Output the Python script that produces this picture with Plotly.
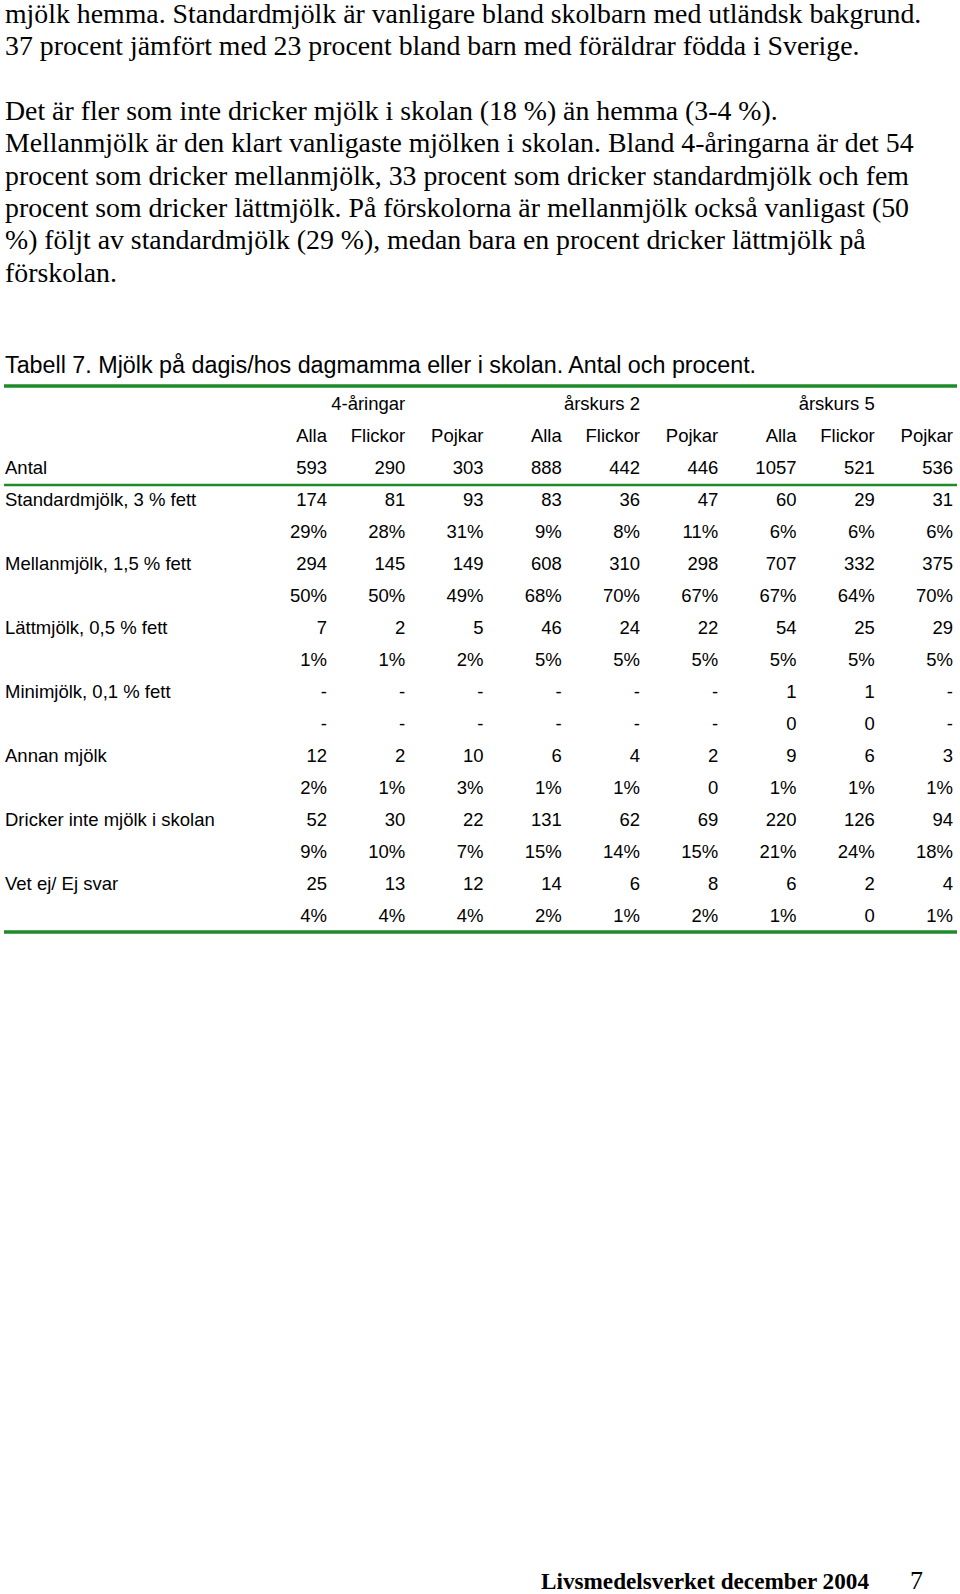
import plotly.graph_objects as go

# ---------------- data ----------------
paragraph_lines = [
    "mjölk hemma. Standardmjölk är vanligare bland skolbarn med utländsk bakgrund.",
    "37 procent jämfört med 23 procent bland barn med föräldrar födda i Sverige.",
    "",
    "Det är fler som inte dricker mjölk i skolan (18 %) än hemma (3-4 %).",
    "Mellanmjölk är den klart vanligaste mjölken i skolan. Bland 4-åringarna är det 54",
    "procent som dricker mellanmjölk, 33 procent som dricker standardmjölk och fem",
    "procent som dricker lättmjölk. På förskolorna är mellanmjölk också vanligast (50",
    "%) följt av standardmjölk (29 %), medan bara en procent dricker lättmjölk på",
    "förskolan.",
]
table_title = "Tabell 7. Mjölk på dagis/hos dagmamma eller i skolan. Antal och procent."
groups = ["4-åringar", "årskurs 2", "årskurs 5"]
subgroups = ["Alla", "Flickor", "Pojkar"]
antal = [593, 290, 303, 888, 442, 446, 1057, 521, 536]

row_labels = [
    "Standardmjölk, 3 % fett",
    "Mellanmjölk, 1,5 % fett",
    "Lättmjölk, 0,5 % fett",
    "Minimjölk, 0,1 % fett",
    "Annan mjölk",
    "Dricker inte mjölk i skolan",
    "Vet ej/ Ej svar",
]
standard_n = [174, 81, 93, 83, 36, 47, 60, 29, 31]
standard_p = ["29%", "28%", "31%", "9%", "8%", "11%", "6%", "6%", "6%"]
mellan_n = [294, 145, 149, 608, 310, 298, 707, 332, 375]
mellan_p = ["50%", "50%", "49%", "68%", "70%", "67%", "67%", "64%", "70%"]
latt_n = [7, 2, 5, 46, 24, 22, 54, 25, 29]
latt_p = ["1%", "1%", "2%", "5%", "5%", "5%", "5%", "5%", "5%"]
mini_n = ["-", "-", "-", "-", "-", "-", "1", "1", "-"]
mini_p = ["-", "-", "-", "-", "-", "-", "0", "0", "-"]
annan_n = [12, 2, 10, 6, 4, 2, 9, 6, 3]
annan_p = ["2%", "1%", "3%", "1%", "1%", "0", "1%", "1%", "1%"]
inte_n = [52, 30, 22, 131, 62, 69, 220, 126, 94]
inte_p = ["9%", "10%", "7%", "15%", "14%", "15%", "21%", "24%", "18%"]
vetej_n = [25, 13, 12, 14, 6, 8, 6, 2, 4]
vetej_p = ["4%", "4%", "4%", "2%", "1%", "2%", "1%", "0", "1%"]

footer_text = "Livsmedelsverket december 2004"
page_number = "7"

# ---------------- layout constants ----------------
W, H = 960, 1594
SERIF = "Liberation Serif, Times New Roman, serif"
SANS = "Liberation Sans, Arial, sans-serif"
GREEN = "#1f8a2a"
TFONT = 18.5
LABEL_X = 5
COL_FIRST_RIGHT, COL_LAST_RIGHT = 327, 953
ROW_FIRST_Y, ROW_LAST_Y = 405, 917

data_rows = [
    (standard_n, standard_p), (mellan_n, mellan_p), (latt_n, latt_p),
    (mini_n, mini_p), (annan_n, annan_p), (inte_n, inte_p), (vetej_n, vetej_p),
]

# table grid rows: 0 group header, 1 subgroup header, 2 Antal, 3.. data
grid_rows = []
grid_rows.append(["", groups[0], "", "", groups[1], "", "", groups[2], ""])
grid_rows.append(subgroups * 3)
grid_rows.append([str(v) for v in antal])
for n_vals, p_vals in data_rows:
    grid_rows.append([str(v) for v in n_vals])
    grid_rows.append([str(v) for v in p_vals])
n_rows = len(grid_rows)
n_cols = len(antal)

label_rows = [("Antal", 2)] + [(lab, 3 + 2 * i) for i, lab in enumerate(row_labels)]

fig = go.Figure()

# table cells through a dedicated (column-index, row-index) axis pair
for r, vals in enumerate(grid_rows):
    fig.add_trace(go.Scatter(
        x=list(range(n_cols)), y=[r] * n_cols, text=vals,
        mode="text", textposition="middle left",
        textfont=dict(family=SANS, size=TFONT, color="black"),
        xaxis="x2", yaxis="y2", cliponaxis=False, hoverinfo="skip",
        showlegend=False,
    ))

# row labels
fig.add_trace(go.Scatter(
    x=[LABEL_X] * len(label_rows), y=[r for _, r in label_rows],
    text=[lab for lab, _ in label_rows],
    mode="text", textposition="middle right",
    textfont=dict(family=SANS, size=TFONT, color="black"),
    xaxis="x3", yaxis="y2", cliponaxis=False, hoverinfo="skip",
    showlegend=False,
))

annotations = []
# paragraph
y0, dy = 13, 32.4
for i, line in enumerate(paragraph_lines):
    if not line:
        continue
    annotations.append(dict(
        x=3, y=y0 + dy * i, xref="x", yref="y", text=line, showarrow=False,
        xanchor="left", yanchor="middle",
        font=dict(family=SERIF, size=27.8, color="black"),
    ))
# table title
annotations.append(dict(
    x=3, y=365, xref="x", yref="y", text=table_title, showarrow=False,
    xanchor="left", yanchor="middle",
    font=dict(family=SANS, size=23.3, color="black"),
))
# footer
annotations.append(dict(
    x=539, y=1581, xref="x", yref="y", text="<b>" + footer_text + "</b>",
    showarrow=False, xanchor="left", yanchor="middle",
    font=dict(family=SERIF, size=23.2, color="black"),
))
annotations.append(dict(
    x=916, y=1580, xref="x", yref="y", text=page_number,
    showarrow=False, xanchor="center", yanchor="middle",
    font=dict(family=SERIF, size=26, color="black"),
))

shapes = [
    dict(type="line", xref="x", yref="y", x0=4, x1=957, y0=386, y1=386,
         line=dict(color=GREEN, width=3.5)),
    dict(type="line", xref="x", yref="y", x0=4, x1=957, y0=485, y1=485,
         line=dict(color=GREEN, width=2.5)),
    dict(type="line", xref="x", yref="y", x0=4, x1=957, y0=932, y1=932,
         line=dict(color=GREEN, width=3.5)),
]

hidden = dict(visible=False, showgrid=False, zeroline=False, fixedrange=True)
fig.update_layout(
    width=W, height=H,
    margin=dict(l=0, r=0, t=0, b=0),
    paper_bgcolor="white", plot_bgcolor="rgba(0,0,0,0)",
    xaxis=dict(range=[0, W], domain=[0, 1], **hidden),
    yaxis=dict(range=[H, 0], domain=[0, 1], **hidden),
    xaxis2=dict(range=[0, n_cols - 1], anchor="y2",
                domain=[COL_FIRST_RIGHT / W, COL_LAST_RIGHT / W], **hidden),
    yaxis2=dict(range=[n_rows - 1, 0], anchor="x2",
                domain=[1 - ROW_LAST_Y / H, 1 - ROW_FIRST_Y / H], **hidden),
    xaxis3=dict(range=[0, W], anchor="y2", domain=[0, 1], **hidden),
    annotations=annotations,
    shapes=shapes,
    showlegend=False,
)

# remove the browser's default 8px body margin so the figure fills the window
fig.write_html(
    "out.html",
    config={"displayModeBar": False, "staticPlot": True},
    post_script="document.body.style.margin='0px';",
)
